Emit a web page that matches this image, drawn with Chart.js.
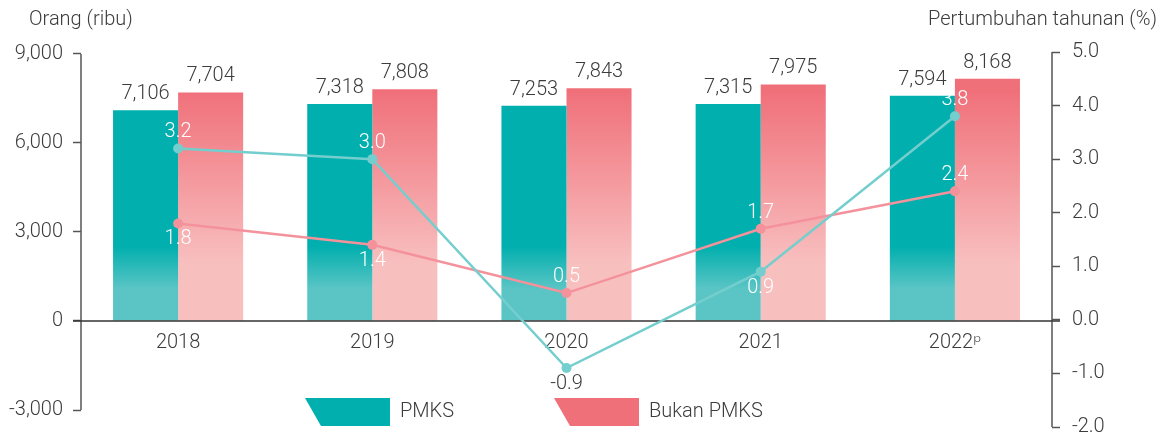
<!DOCTYPE html>
<html>
<head>
<meta charset="utf-8">
<script src="https://cdn.jsdelivr.net/npm/chart.js@4/dist/chart.umd.min.js"></script>
<style>
html,body{margin:0;padding:0;background:#fff;}
#wrap{width:1166px;height:434px;position:relative;}
</style>
</head>
<body>
<div id="wrap"><canvas id="c" width="1166" height="434"></canvas></div>
<script>
// ---- data ----
const categories = ['2018', '2019', '2020', '2021', '2022ᵖ'];
const pmks = [7106, 7318, 7253, 7315, 7594];
const bukanPmks = [7704, 7808, 7843, 7975, 8168];
const pmksGrowth = [3.2, 3.0, -0.9, 0.9, 3.8];
const bukanGrowth = [1.8, 1.4, 0.5, 1.7, 2.4];
const leftTicks = [-3000, 0, 3000, 6000, 9000];
const rightTicks = [-2, -1, 0, 1, 2, 3, 4, 5];
const seriesNames = ['PMKS', 'Bukan PMKS'];
const leftTitle = 'Orang (ribu)';
const rightTitle = 'Pertumbuhan tahunan (%)';

// ---- style ----
const TEXT = '#3c3c3c';
const AXIS = '#555555';
const FONT = 'Roboto, "Noto Sans", "DejaVu Sans", sans-serif';
const FS = 20;
const TEAL = '#00AFAE', TEAL_LIGHT = '#5BC5C5';
const PINK = '#F0707A', PINK_LIGHT = '#F8BFBF';
const TEAL_LINE = '#74CECE', PINK_LINE = '#F4929C';

Chart.defaults.font.family = FONT;
Chart.defaults.font.weight = '300';
Chart.defaults.font.size = FS;
Chart.defaults.color = TEXT;

function tealGrad(context) {
  const ch = context.chart;
  if (!ch.chartArea) return TEAL;
  const y = ch.scales.y;
  const top = y.getPixelForValue(9000), zero = y.getPixelForValue(0);
  const g = ch.ctx.createLinearGradient(0, top, 0, zero);
  g.addColorStop(0, TEAL);
  g.addColorStop(0.72, TEAL);
  g.addColorStop(0.88, TEAL_LIGHT);
  g.addColorStop(1, TEAL_LIGHT);
  return g;
}
function pinkGrad(context) {
  const ch = context.chart;
  if (!ch.chartArea) return PINK;
  const y = ch.scales.y;
  const top = y.getPixelForValue(7750), bot = y.getPixelForValue(1950);
  const g = ch.ctx.createLinearGradient(0, top, 0, bot);
  g.addColorStop(0, PINK);
  g.addColorStop(1, PINK_LIGHT);
  return g;
}

let zeroDrawn = false;
const decor = {
  id: 'decor',
  beforeDatasetsDraw(chart) {
    zeroDrawn = false;
    const ctx = chart.ctx;
    const y = chart.scales.y, y1 = chart.scales.y1;
    ctx.save();
    ctx.strokeStyle = AXIS;
    ctx.lineWidth = 1.5;
    ctx.beginPath();
    ctx.moveTo(y.right, y.getPixelForValue(leftTicks[leftTicks.length - 1]));
    ctx.lineTo(y.right, y.getPixelForValue(leftTicks[0]));
    ctx.moveTo(y1.left, y1.getPixelForValue(rightTicks[rightTicks.length - 1]));
    ctx.lineTo(y1.left, y1.getPixelForValue(rightTicks[0]));
    ctx.stroke();
    ctx.restore();
  },
  beforeDatasetDraw(chart, args) {
    if (args.meta.type === 'line' && !zeroDrawn) {
      zeroDrawn = true;
      const ctx = chart.ctx;
      const y = chart.scales.y;
      const zy = y.getPixelForValue(0);
      ctx.save();
      ctx.strokeStyle = '#333333';
      ctx.lineWidth = 1.5;
      ctx.beginPath();
      ctx.moveTo(y.right - 8, zy);
      ctx.lineTo(chart.scales.y1.left + 8, zy);
      ctx.stroke();
      ctx.restore();
    }
  },
  afterDatasetsDraw(chart) {
    const ctx = chart.ctx;
    ctx.save();
    ctx.font = '300 ' + FS + 'px ' + FONT;
    ctx.textAlign = 'center';
    ctx.textBaseline = 'middle';
    chart.data.datasets.forEach((ds, di) => {
      const meta = chart.getDatasetMeta(di);
      meta.data.forEach((el, i) => {
        const v = ds.data[i];
        if (meta.type === 'bar') {
          ctx.fillStyle = TEXT;
          ctx.fillText(v.toLocaleString('en-US'), el.x, el.y - 16);
        } else {
          const below = ds.labelPos[i] === 'below';
          ctx.fillStyle = v < 0 ? TEXT : '#ffffff';
          ctx.fillText(v.toFixed(1), el.x, el.y + (below ? 16 : -16));
        }
      });
    });
    ctx.restore();
  },
  afterDraw(chart) {
    const ctx = chart.ctx;
    ctx.save();
    ctx.font = '300 ' + FS + 'px ' + FONT;
    ctx.fillStyle = TEXT;
    ctx.textBaseline = 'middle';
    ctx.textAlign = 'left';
    ctx.fillText(leftTitle, 29, 20);
    ctx.textAlign = 'right';
    ctx.fillText(rightTitle, 1157, 20);
    // legend
    const items = [
      {x: 305, color: TEAL, text: seriesNames[0]},
      {x: 554, color: PINK, text: seriesNames[1]}
    ];
    const top = 398, bot = 426, w = 85, slant = 16;
    items.forEach(it => {
      ctx.fillStyle = it.color;
      ctx.beginPath();
      ctx.moveTo(it.x, top);
      ctx.lineTo(it.x + w, top);
      ctx.lineTo(it.x + w, bot);
      ctx.lineTo(it.x + slant, bot);
      ctx.closePath();
      ctx.fill();
      ctx.fillStyle = TEXT;
      ctx.textAlign = 'left';
      ctx.fillText(it.text, it.x + w + 10, (top + bot) / 2);
    });
    ctx.restore();
  }
};

new Chart(document.getElementById('c'), {
  type: 'bar',
  data: {
    labels: categories,
    datasets: [
      {
        type: 'line', label: seriesNames[0] + ' growth', data: pmksGrowth, yAxisID: 'y1',
        borderColor: TEAL_LINE, backgroundColor: TEAL_LINE, borderWidth: 2.5,
        pointRadius: 5, pointBackgroundColor: TEAL_LINE, pointBorderWidth: 0,
        order: 0, labelPos: ['above', 'above', 'below', 'below', 'above']
      },
      {
        type: 'line', label: seriesNames[1] + ' growth', data: bukanGrowth, yAxisID: 'y1',
        borderColor: PINK_LINE, backgroundColor: PINK_LINE, borderWidth: 2.5,
        pointRadius: 5, pointBackgroundColor: PINK_LINE, pointBorderWidth: 0,
        order: 1, labelPos: ['below', 'below', 'above', 'above', 'above']
      },
      { label: seriesNames[0], data: pmks, backgroundColor: tealGrad, yAxisID: 'y', order: 2 },
      { label: seriesNames[1], data: bukanPmks, backgroundColor: pinkGrad, yAxisID: 'y', order: 2 }
    ]
  },
  options: {
    responsive: false,
    animation: false,
    layout: { padding: { top: 52, bottom: 7, left: 0, right: 0 } },
    plugins: { legend: { display: false }, tooltip: { enabled: false } },
    datasets: { bar: { categoryPercentage: 0.67, barPercentage: 1.0 } },
    scales: {
      x: {
        position: { y: 0 },
        grid: { display: false, drawTicks: false },
        border: { display: false },
        ticks: { padding: 10, color: TEXT, font: { size: FS } }
      },
      y: {
        position: 'left',
        min: -3573, max: 9067,
        afterBuildTicks: s => { s.ticks = leftTicks.map(v => ({ value: v })); },
        afterFit: s => { s.width = 81; s.paddingTop = 0; s.paddingBottom = 0; },
        grid: { drawOnChartArea: false, drawTicks: true, tickLength: 8, tickWidth: 1.5, tickColor: AXIS },
        border: { display: false },
        ticks: { padding: 10, color: TEXT, font: { size: FS }, callback: v => v.toLocaleString('en-US') }
      },
      y1: {
        position: 'right',
        min: -2, max: 5,
        afterBuildTicks: s => { s.ticks = rightTicks.map(v => ({ value: v })); },
        afterFit: s => { s.width = 114; s.paddingTop = 0; s.paddingBottom = 0; },
        grid: { drawOnChartArea: false, drawTicks: true, tickLength: 8, tickWidth: 1.5, tickColor: AXIS },
        border: { display: false },
        ticks: { padding: 12, color: TEXT, font: { size: FS }, callback: v => v.toFixed(1) }
      }
    }
  },
  plugins: [decor]
});
</script>
</body>
</html>
